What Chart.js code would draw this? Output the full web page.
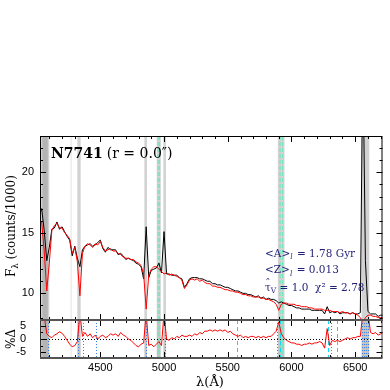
<!DOCTYPE html>
<html>
<head>
<meta charset="utf-8">
<script src="https://cdn.jsdelivr.net/npm/chart.js@4.4.0/dist/chart.umd.min.js"></script>
<style>
  html, body { margin: 0; padding: 0; background: #fff; }
  #wrap { position: relative; width: 390px; height: 390px; }
  #wrap canvas { position: absolute; left: 0; top: 0; }
</style>
</head>
<body>
<div id="wrap">
  <canvas id="specChart" width="390" height="390"></canvas>
  <canvas id="residChart" width="390" height="390"></canvas>
</div>
<script>
// wavelength grid (Angstrom)
const wavelength = [
  4020,4040,4060,4080,4100,4120,4140,4160,4180,4200,
  4220,4240,4260,4280,4300,4320,4340,4360,4380,4400,
  4420,4440,4460,4480,4500,4520,4540,4560,4580,4600,
  4620,4640,4660,4680,4700,4720,4740,4760,4780,4800,
  4820,4840,4860,4880,4900,4920,4940,4960,4980,5000,
  5020,5040,5060,5080,5100,5120,5140,5160,5180,5200,
  5220,5240,5260,5280,5300,5320,5340,5360,5380,5400,
  5420,5440,5460,5480,5500,5520,5540,5560,5580,5600,
  5620,5640,5660,5680,5700,5720,5740,5760,5780,5800,
  5820,5840,5860,5880,5900,5920,5940,5960,5980,6000,
  6020,6040,6060,6080,6100,6120,6140,6160,6180,6200,
  6220,6240,6260,6280,6300,6320,6340,6360,6380,6400,
  6420,6440,6460,6480,6500,6520,6540,6560,6580,6600,
  6620,6640,6660,6680,6700,6720
];
// observed spectrum (black), counts/1000
const observedFlux = [
  16.4,17.0,15.2,12.7,13.8,15.3,15.4,15.9,15.3,15.5,
  15.1,14.7,14.4,13.1,13.9,12.9,12.2,13.6,13.9,14.0,
  14.1,13.9,14.0,14.2,14.4,13.7,13.4,13.8,13.6,13.6,
  13.6,13.2,13.3,13.1,12.8,12.9,12.8,12.7,12.5,12.4,
  12.2,11.2,15.5,11.3,11.9,12.0,12.1,12.5,11.7,15.1,
  11.6,11.6,11.5,11.5,11.5,11.3,11.2,10.5,10.8,11.2,
  11.3,11.3,11.3,11.2,11.2,11.1,11.0,11.0,10.8,10.8,
  10.7,10.7,10.6,10.5,10.5,10.4,10.3,10.2,10.2,10.1,
  10.0,10.0,9.9,9.9,9.8,9.7,9.8,9.6,9.7,9.5,
  9.6,9.5,9.5,9.4,9.2,9.3,9.2,9.1,9.0,9.0,
  8.9,8.8,8.8,8.7,8.7,8.7,8.7,8.6,8.6,8.6,
  8.6,8.6,8.3,8.9,8.4,8.5,8.4,8.5,8.3,8.4,
  8.4,8.4,8.3,8.4,8.3,8.3,8.4,30.0,12.7,8.5,
  8.3,8.3,8.3,8.1,8.2,8.2
];
// synthetic fit (red)
const modelFlux = [
  16.0,15.9,13.5,10.2,12.5,15.2,15.6,15.8,15.4,15.4,
  15.0,14.8,14.5,13.3,13.8,12.6,9.8,13.3,13.9,14.1,
  14.0,13.8,14.1,14.0,14.3,13.8,13.5,13.6,13.7,13.5,
  13.5,13.3,13.2,13.0,12.9,12.9,12.8,12.8,12.6,12.5,
  12.3,11.6,8.7,11.5,12.0,12.2,12.2,12.0,11.8,11.6,
  11.7,11.5,11.6,11.5,11.4,11.3,11.1,10.4,10.7,11.1,
  11.2,11.1,11.2,11.0,11.1,10.9,10.8,10.8,10.6,10.6,
  10.5,10.5,10.4,10.3,10.3,10.2,10.2,10.1,10.1,10.0,
  9.9,9.9,9.8,9.8,9.7,9.7,9.7,9.6,9.6,9.5,
  9.5,9.4,9.3,9.1,8.6,9.1,9.2,9.2,9.1,9.1,
  9.1,9.0,9.0,8.9,8.9,8.9,8.8,8.8,8.7,8.7,
  8.7,8.7,8.6,8.6,8.6,8.5,8.5,8.5,8.4,8.5,
  8.4,8.4,8.3,8.4,8.3,8.2,8.0,7.6,8.0,8.2,
  8.2,8.1,8.1,8.0,8.0,8.0
];
// residual, percent
const residualPct = [
  8,10,9,2.0,1.0,0.5,1.5,2.0,2.8,2.2,
  1.0,-0.5,-2.0,-3.0,-2.5,-1.0,10,1.0,2.5,1.0,
  2.0,0.5,1.5,0.0,1.0,1.5,0.5,1.0,2.0,1.5,
  2.0,1.0,2.5,1.5,1.0,0.0,-0.5,-1.5,-2.5,-3.0,
  -2.0,-1.5,10,-2.5,-2.0,-3.0,-2.0,-1.0,-2.5,10,
  0.0,-0.5,0.5,0.0,1.0,0.5,1.5,1.0,1.0,1.5,
  1.0,2.0,1.5,2.5,2.0,3.0,3.0,3.5,3.0,3.5,
  3.0,3.5,3.0,3.5,2.5,3.0,2.0,1.5,1.0,1.5,
  0.5,1.0,0.5,1.0,1.0,0.5,1.0,0.5,1.0,0.5,
  1.0,1.0,2.0,3.0,6.5,2.0,0.5,-0.5,-1.0,-1.5,
  -1.5,-2.0,-2.0,-2.5,-2.0,-2.0,-1.5,-2.0,-1.5,-1.5,
  -1.0,-1.5,-3.5,4.0,-2.5,-0.5,-1.0,-0.5,-1.0,-0.5,
  0.0,0.5,0.0,0.5,0.5,1.0,1.0,10,10,10,
  2.5,2.0,2.5,1.5,2.0,2.5
];
const xTickLabels = [4500, 5000, 5500, 6000, 6500];
const fluxTickLabels = [10, 15, 20];
const residTickLabels = [-5, 0, 5];

// masked wavelength windows, emission-line and sky-line markers
const maskedRanges = [[4027, 4100], [4320, 4346], [4846, 4866], [4943, 4974], [4995, 5015], [5893, 5945], [6550, 6610]];
const faintRanges = [[4265, 4278]];
const emissionMarks = [4953, 4965, 5910, 5930];
const lineMarks = [4092, 4328, 4362, 4464, 4855, 5005, 5889, 6313, 6556, 6570, 6585, 6600];
const skyMarks = [5570, 5910, 6287, 6357];

const galaxyName = 'N7741';
const radiusLabel = '(r = 0.0\u2033)';
const meanAge = '1.78';
const meanZ = '0.013';
const tauV = '1.0';
const chi2 = '2.78';

const X_MIN = 4027, X_MAX = 6714;
const SERIF = '"DejaVu Serif", serif';
const SANS = '"Liberation Sans", Arial, sans-serif';
const NAVY = '#1f1f78';

const toPoints = ys => wavelength.map((x, i) => ({ x, y: ys[i] }));

function crisp(v) { return Math.round(v) + 0.5; }

function drawBands(chart, residual) {
  const { ctx, chartArea: a, scales: { x } } = chart;
  const px = v => x.getPixelForValue(v);
  ctx.save();
  ctx.beginPath(); ctx.rect(a.left, a.top, a.width, a.height); ctx.clip();
  faintRanges.forEach(([lo, hi]) => {
    ctx.fillStyle = '#eeeeee';
    ctx.fillRect(px(lo), a.top, px(hi) - px(lo), a.height);
  });
  maskedRanges.forEach(([lo, hi], i) => {
    ctx.fillStyle = residual ? '#c4c4c4' : '#d2d2d2';
    ctx.fillRect(px(lo), a.top, px(hi) - px(lo), a.height);
    if (i === 0) {
      ctx.fillStyle = '#b4b4b4';
      ctx.fillRect(px(4045), a.top, px(4088) - px(4045), a.height);
    }
  });
  ctx.lineWidth = 1.2;
  ctx.strokeStyle = '#74e6bd';
  ctx.setLineDash([4, 2]);
  emissionMarks.forEach(l => {
    ctx.beginPath(); ctx.moveTo(px(l), a.top); ctx.lineTo(px(l), a.bottom); ctx.stroke();
  });
  if (residual) {
    ctx.lineWidth = 1;
    ctx.strokeStyle = '#3a7ff0';
    ctx.setLineDash([1, 2]);
    lineMarks.forEach(l => {
      ctx.beginPath(); ctx.moveTo(crisp(px(l)), a.top); ctx.lineTo(crisp(px(l)), a.bottom); ctx.stroke();
    });
    ctx.strokeStyle = '#10d8f0';
    ctx.setLineDash([4, 3]);
    skyMarks.forEach(l => {
      ctx.beginPath(); ctx.moveTo(crisp(px(l)), a.top); ctx.lineTo(crisp(px(l)), a.bottom); ctx.stroke();
    });
    // zero line
    const y0 = crisp(chart.scales.y.getPixelForValue(0));
    ctx.strokeStyle = '#000';
    ctx.setLineDash([1, 2]);
    ctx.beginPath(); ctx.moveTo(a.left, y0); ctx.lineTo(a.right, y0); ctx.stroke();
  }
  ctx.restore();
}

function drawTicks(chart, yMin, yMax, yStep, yMajor) {
  const { ctx, chartArea: a, scales: { x, y } } = chart;
  ctx.save();
  ctx.strokeStyle = '#000';
  ctx.lineWidth = 1;
  ctx.beginPath();
  for (let l = 4100; l <= 6700; l += 100) {
    const xp = crisp(x.getPixelForValue(l));
    const len = l % 500 === 0 ? 6 : 3;
    ctx.moveTo(xp, a.top); ctx.lineTo(xp, a.top + len);
    ctx.moveTo(xp, a.bottom); ctx.lineTo(xp, a.bottom - len);
  }
  for (let v = yMin; v <= yMax + 1e-6; v += yStep) {
    const yp = crisp(y.getPixelForValue(v));
    const len = Math.abs(v / yMajor - Math.round(v / yMajor)) < 1e-6 ? 6 : 3;
    ctx.moveTo(a.left, yp); ctx.lineTo(a.left + len, yp);
    ctx.moveTo(a.right, yp); ctx.lineTo(a.right - len, yp);
  }
  ctx.stroke();
  ctx.restore();
}

function drawRun(ctx, x, y, parts) {
  parts.forEach(p => {
    ctx.font = p.font;
    ctx.fillText(p.t, x, y + (p.dy || 0));
    x += ctx.measureText(p.t).width + (p.gap || 0);
  });
  return x;
}

const specDecor = {
  id: 'specDecor',
  beforeDatasetsDraw(chart) { drawBands(chart, false); },
  afterDatasetsDraw(chart) {
    const { ctx, chartArea: a, scales: { y } } = chart;
    drawTicks(chart, 8, 22, 1, 5);
    ctx.save();
    ctx.strokeStyle = '#000';
    ctx.lineWidth = 1;
    ctx.strokeRect(a.left + 0.5, a.top + 0.5, a.width - 1, a.height);
    // tick labels
    ctx.fillStyle = '#000';
    ctx.font = '11px ' + SANS;
    ctx.textAlign = 'right';
    ctx.textBaseline = 'middle';
    fluxTickLabels.forEach(v => ctx.fillText(String(v), a.left - 6, y.getPixelForValue(v)));
    // panel label
    ctx.textAlign = 'left';
    ctx.textBaseline = 'alphabetic';
    let xp = drawRun(ctx, 51, 157.5, [{ t: galaxyName, font: 'bold 14px ' + SERIF, gap: 4 }]);
    drawRun(ctx, xp, 157.5, [{ t: radiusLabel, font: '14px ' + SERIF }]);
    // fit results
    ctx.fillStyle = NAVY;
    const f = '10.5px ' + SERIF, fs = 'italic 7.5px ' + SERIF;
    drawRun(ctx, 265, 256.5, [
      { t: '<A>', font: f }, { t: 'l', font: fs, dy: 2.5, gap: 1 }, { t: ' = ' + meanAge + ' Gyr', font: f }
    ]);
    drawRun(ctx, 265, 273, [
      { t: '<Z>', font: f }, { t: 'l', font: fs, dy: 2.5, gap: 1 }, { t: ' = ' + meanZ, font: f }
    ]);
    ctx.font = f;
    const tauW = ctx.measureText('\u03c4').width;
    ctx.fillText('\u02c6', 265 + tauW / 2 - ctx.measureText('\u02c6').width / 2, 287);
    drawRun(ctx, 265, 290.5, [
      { t: '\u03c4', font: f }, { t: 'V', font: '7.5px ' + SERIF, dy: 2.5 },
      { t: ' = ' + tauV + '  \u03c7\u00b2 = ' + chi2, font: f }
    ]);
    // y-axis title
    ctx.fillStyle = '#000';
    ctx.translate(15, 277);
    ctx.rotate(-Math.PI / 2);
    drawRun(ctx, 0, 0, [
      { t: 'F', font: '12px ' + SERIF }, { t: '\u03bb', font: '8.5px ' + SERIF, dy: 3 },
      { t: ' (counts/1000)', font: '12px ' + SERIF }
    ]);
    ctx.restore();
  }
};

const residDecor = {
  id: 'residDecor',
  beforeDatasetsDraw(chart) { drawBands(chart, true); },
  afterDatasetsDraw(chart) {
    const { ctx, chartArea: a, scales: { x, y } } = chart;
    drawTicks(chart, -5, 5, 2.5, 5);
    ctx.save();
    ctx.strokeStyle = '#333';
    ctx.lineWidth = 1;
    ctx.beginPath();
    ctx.moveTo(a.left + 0.5, a.top); ctx.lineTo(a.left + 0.5, a.bottom);
    ctx.moveTo(a.right - 0.5, a.top); ctx.lineTo(a.right - 0.5, a.bottom);
    ctx.stroke();
    ctx.strokeStyle = '#555';
    ctx.lineWidth = 2;
    ctx.beginPath();
    ctx.moveTo(a.left, a.top); ctx.lineTo(a.right, a.top);
    ctx.moveTo(a.left, a.bottom); ctx.lineTo(a.right, a.bottom);
    ctx.stroke();
    ctx.fillStyle = '#000';
    ctx.font = '11px ' + SANS;
    ctx.textAlign = 'right';
    ctx.textBaseline = 'middle';
    residTickLabels.forEach(v => ctx.fillText(String(v), a.left - 14, y.getPixelForValue(v)));
    ctx.textAlign = 'center';
    ctx.textBaseline = 'top';
    xTickLabels.forEach(v => ctx.fillText(String(v), x.getPixelForValue(v), a.bottom + 4));
    ctx.font = '13px ' + SERIF;
    ctx.textBaseline = 'alphabetic';
    ctx.fillText('\u03bb(\u00c5)', 210, 386);
    ctx.translate(15, 339);
    ctx.rotate(-Math.PI / 2);
    ctx.font = '12px ' + SERIF;
    ctx.fillText('%\u0394', 0, 0);
    ctx.restore();
  }
};

const baseOptions = (padding, yMin, yMax) => ({
  responsive: false,
  animation: false,
  events: [],
  layout: { padding },
  plugins: { legend: { display: false }, tooltip: { enabled: false } },
  elements: { point: { radius: 0 }, line: { tension: 0, borderWidth: 1 } },
  scales: {
    x: { type: 'linear', min: X_MIN, max: X_MAX, display: false },
    y: { type: 'linear', min: yMin, max: yMax, display: false }
  }
});

new Chart(document.getElementById('specChart'), {
  type: 'line',
  data: {
    datasets: [
      { label: 'model', data: toPoints(modelFlux), borderColor: '#ff0000', order: 0 },
      { label: 'observed', data: toPoints(observedFlux), borderColor: '#000000', order: 1 }
    ]
  },
  options: baseOptions({ left: 40, right: 7.5, top: 136, bottom: 70 }, 7.8, 23),
  plugins: [specDecor]
});

new Chart(document.getElementById('residChart'), {
  type: 'line',
  data: {
    datasets: [
      { label: 'residual', data: toPoints(residualPct), borderColor: '#ff0000' }
    ]
  },
  options: baseOptions({ left: 40, right: 7.5, top: 320, bottom: 32 }, -7.3, 7.3),
  plugins: [residDecor]
});
</script>
</body>
</html>
